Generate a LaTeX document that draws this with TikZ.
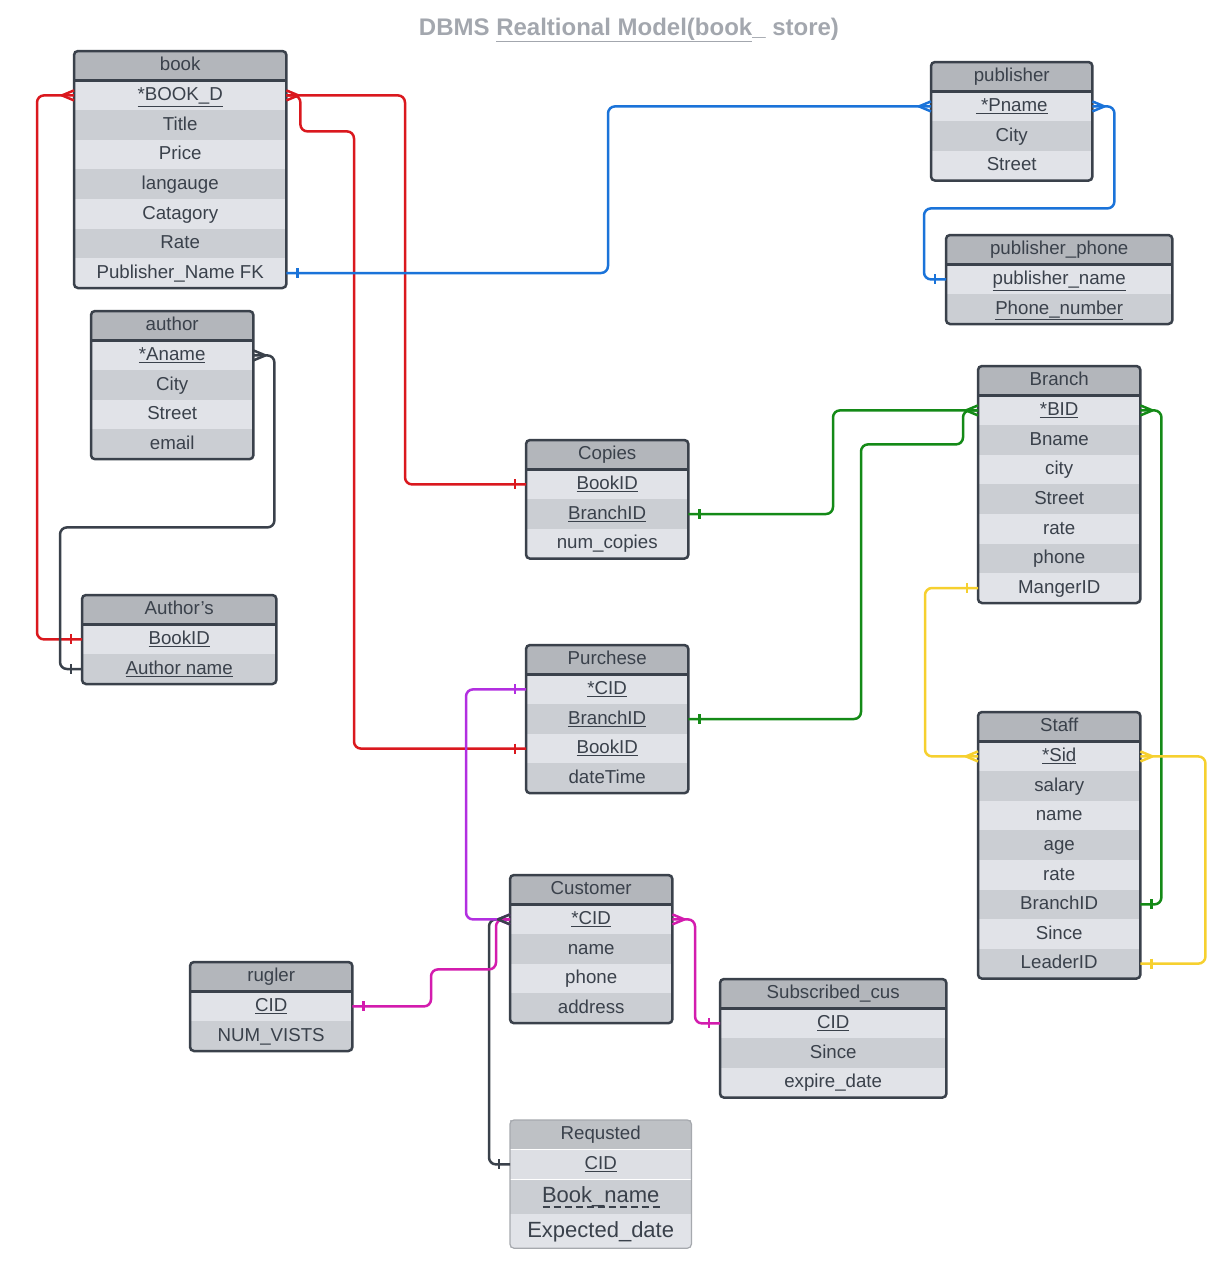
\documentclass[tikz,border=0pt]{standalone}
\usepackage{fontspec}
\setmainfont{Liberation Sans}

\definecolor{ink}{HTML}{3A414B}
\definecolor{headgrey}{HTML}{B3B6BB}
\definecolor{rowlight}{HTML}{E1E3E8}
\definecolor{rowdark}{HTML}{CBCED3}
\definecolor{titlegrey}{HTML}{A3A7AE}
\definecolor{relred}{HTML}{DA181E}
\definecolor{relblue}{HTML}{1A73D9}
\definecolor{relgreen}{HTML}{148A17}
\definecolor{relyellow}{HTML}{F6D02F}
\definecolor{relpink}{HTML}{D31CAE}
\definecolor{relpurple}{HTML}{B22FE0}

\newcommand{\rowfont}{\fontsize{18.7}{21}\selectfont}
\newcommand{\bigrowfont}{\fontsize{22}{25}\selectfont}
\newcommand{\titlefont}{\fontsize{24}{28}\selectfont\bfseries}
\newcommand{\ul}[1]{\underline{#1}}

% table: name, top left, width, title, rows
\newcommand{\erTable}[5]{%
  \node[tblhead, minimum width=#3, anchor=north west] (#1) at (#2) {#4};
  \foreach \txt [count=\i] in {#5} {
    \pgfmathtruncatemacro\odd{mod(\i,2)}
    \ifnum\odd=1 \def\rowfill{rowlight}\else\def\rowfill{rowdark}\fi
    \node[tblrow, fill=\rowfill, minimum width=#3, anchor=north west] (#1-\i)
      at ([yshift={-(\i-1)*29.6pt}]#1.south west) {\txt};
    \xdef\nrows{\i}
  }
  \draw[tblframe] (#1.north west) rectangle (#1-\nrows.south east);
  \draw[ink, line width=3pt] (#1.south west) -- (#1.south east);
}

% end marks
\newcommand{\oneW}[2]{\draw[tipline,#1] (#2) ++(-11,-5) -- ++(0,10);}
\newcommand{\oneE}[2]{\draw[tipline,#1] (#2) ++(11,-5) -- ++(0,10);}
\newcommand{\manyW}[2]{\draw[tipline,#1] (#2) ++(0,-5) -- ++(-12,5) -- ++(12,5);}
\newcommand{\manyE}[2]{\draw[tipline,#1] (#2) ++(0,-5) -- ++(12,5) -- ++(-12,5);}

\begin{document}
\begin{tikzpicture}[x=1pt, y=-1pt,
    tblhead/.style={fill=headgrey, text=ink, inner sep=0pt, minimum height=29pt, text height=12.5pt, text depth=2pt, font=\rowfont},
    tblrow/.style={text=ink, inner sep=0pt, minimum height=29.6pt, text height=12.5pt, text depth=2pt, font=\rowfont},
    tblframe/.style={draw=ink, line width=2.5pt, rounded corners=4pt},
    conn/.style={line width=2.5pt, rounded corners=7pt},
    tipline/.style={line width=2.5pt, line join=round},
    title/.style={font=\titlefont, text=titlegrey}
  ]
  \useasboundingbox (0,0) rectangle (1227,1280);

  \node[title] (head) at (629,30) {DBMS \ul{Realtional Model(book}\_ store)};

  % tables
  \erTable{book}{74,51}{212pt}{book}{\ul{*BOOK\_D},Title,Price,langauge,Catagory,Rate,Publisher\_Name FK}
  \erTable{publisher}{931,62}{161pt}{publisher}{\ul{~*Pname},City,Street}
  \erTable{pphone}{946,235}{226pt}{publisher\_phone}{\ul{publisher\_name},\ul{Phone\_number}}
  \erTable{author}{91,311}{162pt}{author}{\ul{*Aname},City,Street,email}
  \erTable{authors}{82,595}{194pt}{Author's}{\ul{BookID},\ul{Author name}}
  \erTable{copies}{526,440}{162pt}{Copies}{\ul{BookID},\ul{BranchID},num\_copies}
  \erTable{purchese}{526,645}{162pt}{Purchese}{\ul{*CID},\ul{BranchID},\ul{BookID},dateTime}
  \erTable{branch}{978,366}{162pt}{Branch}{\ul{*BID},Bname,city,Street,rate,phone,MangerID}
  \erTable{staff}{978,712}{162pt}{Staff}{\ul{*Sid},salary,name,age,rate,BranchID,Since,LeaderID}
  \erTable{customer}{510,875}{162pt}{Customer}{\ul{*CID},name,phone,address}
  \erTable{rugler}{190,962}{162pt}{rugler}{\ul{CID},NUM\_VISTS}
  \erTable{subscribed}{720,979}{226pt}{Subscribed\_cus}{\ul{CID},Since,expire\_date}

  % Requsted is drawn lighter
  \node[tblhead, fill=headgrey!85, minimum width=181pt, anchor=north west] (requsted) at (510,1120) {Requsted};
  \node[tblrow, fill=rowlight!80!rowdark, minimum width=181pt, anchor=north west] (requsted-1) at (requsted.south west) {\ul{CID}};
  \node[tblrow, fill=rowdark, minimum width=181pt, minimum height=34pt, text height=15pt, text depth=3pt, font=\bigrowfont, anchor=north west] (requsted-2) at (requsted-1.south west) {Book\_name};
  \node[tblrow, fill=rowlight, minimum width=181pt, minimum height=34pt, text height=15pt, text depth=3pt, font=\bigrowfont, anchor=north west] (requsted-3) at (requsted-2.south west) {Expected\_date};
  \draw[draw=ink!45, line width=1.2pt, rounded corners=4pt] (requsted.north west) rectangle (requsted-3.south east);
  \draw[ink, line width=2pt, dash pattern=on 7pt off 4pt] ([xshift=-58pt, yshift=-10pt]requsted-2.center) -- ++(117,0);

  % red
  \draw[conn, relred] (book-1.west) -| ([xshift=-45pt]authors-1.west) -- (authors-1.west);
  \draw[conn, relred] (book-1.east) -| ([xshift=-121pt]copies-1.west) -- (copies-1.west);
  \draw[conn, relred] (book-1.east) -- ++(14,0) -- ++(0,36) -| ([xshift=-172pt]purchese-3.west) -- (purchese-3.west);
  \manyW{relred}{book-1.west}
  \manyE{relred}{book-1.east}
  \oneW{relred}{authors-1.west}
  \oneW{relred}{copies-1.west}
  \oneW{relred}{purchese-3.west}

  % blue
  \draw[conn, relblue] (book-7.east) -| ([xshift=-323pt]publisher-1.west) -- (publisher-1.west);
  \draw[conn, relblue] (publisher-1.east) -- ++(22,0) -- ++(0,102) -| ([xshift=-22pt]pphone-1.west) -- (pphone-1.west);
  \oneE{relblue}{book-7.east}
  \manyW{relblue}{publisher-1.west}
  \manyE{relblue}{publisher-1.east}
  \oneW{relblue}{pphone-1.west}

  % dark
  \draw[conn, ink] (author-1.east) -- ++(21,0) -- ++(0,172) -| ([xshift=-22pt]authors-2.west) -- (authors-2.west);
  \draw[conn, ink] (customer-1.west) -| ([xshift=-21pt]requsted-1.west) -- (requsted-1.west);
  \manyE{ink}{author-1.east}
  \oneW{ink}{authors-2.west}
  \oneW{ink}{requsted-1.west}

  % green
  \draw[conn, relgreen] (copies-2.east) -| ([xshift=-145pt]branch-1.west) -- (branch-1.west);
  \draw[conn, relgreen] (purchese-2.east) -| ([xshift=-117pt, yshift=-34pt]branch-1.west) -| ([xshift=-15pt]branch-1.west) -- (branch-1.west);
  \draw[conn, relgreen] (branch-1.east) -| ([xshift=21pt]staff-6.east) -- (staff-6.east);
  \oneE{relgreen}{copies-2.east}
  \oneE{relgreen}{purchese-2.east}
  \manyW{relgreen}{branch-1.west}
  \manyE{relgreen}{branch-1.east}
  \oneE{relgreen}{staff-6.east}

  % yellow
  \draw[conn, relyellow] (branch-7.west) -| ([xshift=-53pt]staff-1.west) -- (staff-1.west);
  \draw[conn, relyellow] (staff-1.east) -| ([xshift=65pt]staff-8.east) -- (staff-8.east);
  \oneW{relyellow}{branch-7.west}
  \manyW{relyellow}{staff-1.west}
  \manyE{relyellow}{staff-1.east}
  \oneE{relyellow}{staff-8.east}

  % pink and purple
  \draw[conn, relpurple] (purchese-1.west) -| ([xshift=-44pt]customer-1.west) -- (customer-1.west);
  \draw[conn, relpink] (customer-1.east) -| ([xshift=-25pt]subscribed-1.west) -- (subscribed-1.west);
  \draw[conn, relpink] (rugler-1.east) -| ([xshift=-79pt, yshift=-50pt]customer-1.west) -| ([xshift=-14pt]customer-1.west) -- (customer-1.west);
  \oneW{relpurple}{purchese-1.west}
  \manyW{relpurple}{customer-1.west}
  \manyW{ink}{customer-1.west}
  \manyE{relpink}{customer-1.east}
  \oneW{relpink}{subscribed-1.west}
  \oneE{relpink}{rugler-1.east}
\end{tikzpicture}
\end{document}
